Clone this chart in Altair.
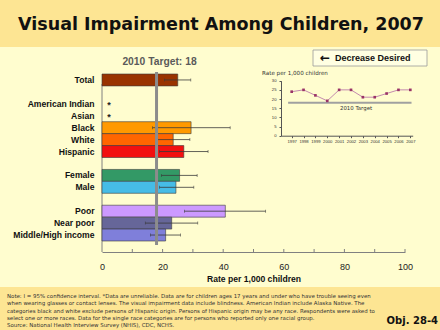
import altair as alt
import pandas as pd

# ---------------- data ----------------
categories = ["Total", "gap1", "American Indian", "Asian", "Black", "White", "Hispanic",
              "gap2", "Female", "Male", "gap3", "Poor", "Near poor", "Middle/High income"]
bar_groups = ["Total", "Black", "White", "Hispanic", "Female", "Male", "Poor", "Near poor", "Middle/High income"]
bar_rates = [25, 29.4, 23.5, 27, 25.6, 24.4, 40.7, 23, 21]
ci_low = [20.6, 16.7, 17.9, 19, 19.6, 19, 27.2, 14.3, 16]
ci_high = [29.3, 42.3, 29, 35, 31.4, 30.3, 54, 31.6, 25.9]
bar_colors = ["#993300", "#FF9900", "#FF6600", "#F21010", "#339966", "#46BCE6", "#CC99FF", "#666699", "#7F7FDA"]
unreliable = ["American Indian", "Asian"]
target_2010 = 18
x_ticks = [0, 20, 40, 60, 80, 100]
x_minor = [10, 20, 30, 40, 50, 60, 70, 80, 90, 100]

years = [1997, 1998, 1999, 2000, 2001, 2002, 2003, 2004, 2005, 2006, 2007]
trend = [24, 25, 22, 19, 25, 25, 21, 21, 23, 25, 25]
inset_y_ticks = [0, 5, 10, 15, 20, 25, 30]

title_text = "Visual Impairment Among Children, 2007"
footer_lines = [
    "Note: I = 95% confidence interval. *Data are unreliable. Data are for children ages 17 years and under who have trouble seeing even",
    "when wearing glasses or contact lenses. The visual impairment data include blindness. American Indian include Alaska Native. The",
    "categories black and white exclude persons of Hispanic origin. Persons of Hispanic origin may be any race. Respondents were asked to",
    "select one or more races. Data for the single race categories are for persons who reported only one racial group.",
    "Source: National Health Interview Survey (NHIS), CDC, NCHS.",
]

bars_df = pd.DataFrame({"group": bar_groups, "rate": bar_rates, "lo": ci_low, "hi": ci_high})
star_df = pd.DataFrame({"group": unreliable, "mark": ["*"] * len(unreliable)})
trend_df = pd.DataFrame({"year": years, "rate": trend})
one = pd.DataFrame({"k": [0]})

# ---------------- scales ----------------
X_MAIN = alt.Scale(domain=[0, 100], nice=False, zero=True)
Y_MAIN = alt.Scale(domain=categories, range=[2, 169], paddingInner=0, paddingOuter=0)
X_IN = alt.Scale(domain=[1996.1, 2007.2], range=[179, 310.7], nice=False, zero=False)
Y_IN = alt.Scale(domain=[0, 30], range=[63.7, 8.7], nice=False, zero=True)

FONT = "Liberation Sans"

# ---------------- decoration layers ----------------
title_band = alt.Chart(one).mark_rect(color="#FDE593").encode(
    x=alt.value(-102), x2=alt.value(338), y=alt.value(-72), y2=alt.value(-25))
footer_band = alt.Chart(one).mark_rect(color="#FDE593").encode(
    x=alt.value(-102), x2=alt.value(338), y=alt.value(215), y2=alt.value(258))

title = alt.Chart(pd.DataFrame({"t": [title_text]})).mark_text(
    font="DejaVu Sans", fontWeight="bold", fontSize=17.5, color="#111111",
    align="center", baseline="alphabetic").encode(
    x=alt.value(119), y=alt.value(-42.5), text="t:N")

target_lbl = alt.Chart(pd.DataFrame({"t": [f"2010 Target: {target_2010}"]})).mark_text(
    font=FONT, fontWeight="bold", fontSize=10.3, color="#5A5A5A",
    align="center", baseline="middle").encode(
    x=alt.value(57.5), y=alt.value(-10.5), text="t:N")

dec_box = alt.Chart(one).mark_rect(fill="#FFFFE2", stroke="#9A9A9A", strokeWidth=0.8).encode(
    x=alt.value(211), x2=alt.value(325), y=alt.value(-22), y2=alt.value(-6))
dec_arrow = alt.Chart(pd.DataFrame({"t": ["\u2190"]})).mark_text(
    font="DejaVu Sans", fontWeight="bold", fontSize=12, color="#111111",
    align="center", baseline="middle").encode(
    x=alt.value(223), y=alt.value(-14.5), text="t:N")
dec_text = alt.Chart(pd.DataFrame({"t": ["Decrease Desired"]})).mark_text(
    font=FONT, fontWeight="bold", fontSize=9, color="#111111",
    align="left", baseline="middle").encode(
    x=alt.value(233), y=alt.value(-14), text="t:N")

# ---------------- main chart ----------------
y_axis = alt.Axis(orient="left", domain=False, ticks=False, labelPadding=8, labelFontSize=8.6,
                  labelFont=FONT, labelFontWeight="bold", labelColor="#111111", title=None,
                  labelExpr="indexof(datum.label, 'gap') == 0 ? '' : datum.label")
x_axis = alt.Axis(orient="bottom", values=x_ticks, ticks=False, labelPadding=10, labelFontSize=9,
                  labelFont=FONT, labelColor="#222222", labelFlush=False, domainColor="#808080",
                  title="Rate per 1,000 children", titleFont=FONT, titleFontSize=8.6,
                  titleFontWeight="bold", titleColor="#111111", titlePadding=3, grid=False)

y_line = alt.Chart(one).mark_rule(color="#808080", strokeWidth=1).encode(
    x=alt.datum(0, scale=X_MAIN, axis=None), y=alt.value(12), y2=alt.value(180))

x_minor_ticks = alt.Chart(pd.DataFrame({"v": x_minor})).mark_rule(color="#808080", strokeWidth=1).encode(
    x=alt.X("v:Q", scale=X_MAIN, axis=None), y=alt.value(177), y2=alt.value(180))

bars = alt.Chart(bars_df).mark_bar(stroke="#3A3A3A", strokeWidth=0.6).encode(
    x=alt.X("rate:Q", scale=X_MAIN, axis=x_axis),
    y=alt.Y("group:N", scale=Y_MAIN, axis=y_axis),
    color=alt.Color("group:N", scale=alt.Scale(domain=bar_groups, range=bar_colors), legend=None),
)

err = alt.Chart(bars_df).mark_rule(color="#3A3A3A", strokeWidth=0.8).encode(
    x=alt.X("lo:Q", scale=X_MAIN, axis=None), x2="hi:Q",
    y=alt.Y("group:N", scale=Y_MAIN, axis=None))
cap_lo = alt.Chart(bars_df).mark_tick(color="#3A3A3A", thickness=0.8, size=3, orient="vertical").encode(
    x=alt.X("lo:Q", scale=X_MAIN, axis=None), y=alt.Y("group:N", scale=Y_MAIN, axis=None))
cap_hi = alt.Chart(bars_df).mark_tick(color="#3A3A3A", thickness=0.8, size=3, orient="vertical").encode(
    x=alt.X("hi:Q", scale=X_MAIN, axis=None), y=alt.Y("group:N", scale=Y_MAIN, axis=None))

target_rule = alt.Chart(one).mark_rule(color="#8C8C8C", strokeWidth=3).encode(
    x=alt.datum(target_2010, scale=X_MAIN, axis=None), y=alt.value(0), y2=alt.value(173))

stars = alt.Chart(star_df).mark_text(font=FONT, fontWeight="bold", fontSize=9, color="#222222",
                                     align="center", baseline="middle", dy=1.5).encode(
    x=alt.value(7), y=alt.Y("group:N", scale=Y_MAIN, axis=None), text="mark:N")

# ---------------- inset trend chart ----------------
inset_title = alt.Chart(pd.DataFrame({"t": ["Rate per 1,000 children"]})).mark_text(
    font="DejaVu Sans", fontSize=5.6, color="#333333", align="left", baseline="middle").encode(
    x=alt.value(160), y=alt.value(1), text="t:N")

in_x_axis = alt.Axis(orient="bottom", offset=-116.3, values=years, format="d", labelFontSize=4.2,
                     labelFont=FONT, labelColor="#333333", tickSize=2, labelPadding=1.5,
                     domainColor="#555555", tickColor="#555555", title=None, grid=False,
                     labelFlush=False, labelOverlap=False)
in_y_axis = alt.Axis(orient="left", offset=-179, values=inset_y_ticks, labelFontSize=4.2,
                     labelFont=FONT, labelColor="#333333", tickSize=2, labelPadding=3,
                     domainColor="#555555", tickColor="#555555", title=None, grid=False,
                     labelFlush=False, labelOverlap=False)

in_target = alt.Chart(one).mark_rule(color="#A0A0A0", strokeWidth=2).encode(
    x=alt.datum(1996.7, scale=X_IN, axis=None), x2=alt.datum(2007.1),
    y=alt.datum(target_2010, scale=Y_IN, axis=None))
in_target_lbl = alt.Chart(pd.DataFrame({"t": ["2010 Target"]})).mark_text(
    font="DejaVu Sans", fontSize=5.4, color="#333333", align="center", baseline="middle").encode(
    x=alt.value(254), y=alt.value(36), text="t:N")

in_line = alt.Chart(trend_df).mark_line(color="#C48AAE", strokeWidth=1).encode(
    x=alt.X("year:Q", scale=X_IN, axis=in_x_axis),
    y=alt.Y("rate:Q", scale=Y_IN, axis=in_y_axis))
in_pts = alt.Chart(trend_df).mark_square(color="#993366", size=7, opacity=1).encode(
    x=alt.X("year:Q", scale=X_IN, axis=None),
    y=alt.Y("rate:Q", scale=Y_IN, axis=None))

# ---------------- footer ----------------
footer = alt.Chart(one).mark_text(
    font="DejaVu Sans", fontSize=5.45, color="#333333", align="left", baseline="middle",
    lineHeight=7.3).encode(
    x=alt.value(-95), y=alt.value(224), text=alt.value(footer_lines))
obj = alt.Chart(pd.DataFrame({"t": ["Obj. 28-4"]})).mark_text(
    font="DejaVu Sans", fontWeight="bold", fontSize=10, color="#111111",
    align="right", baseline="middle").encode(
    x=alt.value(336), y=alt.value(248.5), text="t:N")

chart = alt.layer(
    title_band, footer_band, title, target_lbl, dec_box, dec_arrow, dec_text,
    y_line, bars, err, cap_lo, cap_hi, target_rule, x_minor_ticks, stars,
    inset_title, in_target, in_target_lbl, in_line, in_pts,
    footer, obj,
).resolve_scale(
    x="independent", y="independent", color="independent"
).properties(
    width=303, height=180,
    padding={"left": 102, "top": 72, "right": 35, "bottom": 78},
    autosize=alt.AutoSizeParams(type="none"),
    background="#FFFDCF",
).configure_view(stroke=None).configure_axis(grid=False)

chart.save("out.html", embed_options={"renderer": "svg", "actions": False})
